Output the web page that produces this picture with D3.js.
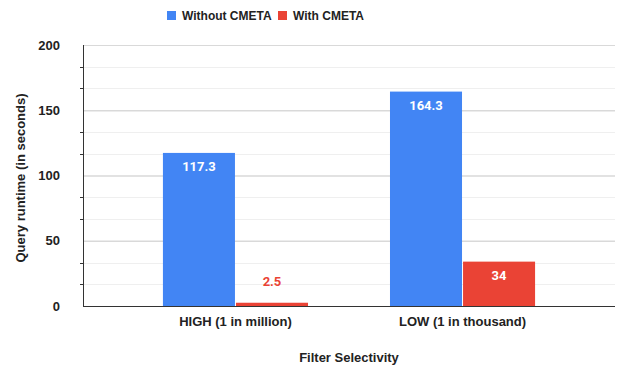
<!DOCTYPE html>
<html><head><meta charset="utf-8">
<script src="https://cdn.jsdelivr.net/npm/d3@7"></script>
<style>body{margin:0;background:#fff}svg{display:block}</style>
</head><body>
<svg id="c" width="618" height="366"></svg>
<script>
const categories = ["HIGH (1 in million)", "LOW (1 in thousand)"];
const seriesNames = ["Without CMETA", "With CMETA"];
const withoutCmeta = [117.3, 164.3];
const withCmeta = [2.5, 34];
const yTicks = [0, 50, 100, 150, 200];
const colors = ["#4285F4", "#EA4335"];

const svg = d3.select("#c");
const W = 618, H = 366;
const m = {l: 83, r: 3, t: 45, b: 60};
const font = "'Liberation Sans', Arial, sans-serif";

const x0 = d3.scaleBand().domain(categories).range([m.l, W - m.r]).paddingInner(0.361).paddingOuter(0.352);
const x1 = d3.scaleBand().domain(seriesNames).range([0, x0.bandwidth()]).paddingInner(0.014);
const y = d3.scaleLinear().domain([0, 200]).range([H - m.b, m.t]);

// minor gridlines
const minor = d3.range(0, 200, 50/3).filter((v,i)=> i%3!==0);
svg.append("g").selectAll("line").data(minor).join("line")
  .attr("x1", m.l).attr("x2", W - m.r)
  .attr("y1", d => Math.round(y(d)) + 0.5).attr("y2", d => Math.round(y(d)) + 0.5)
  .attr("stroke", "#efefef").attr("stroke-width", 1);
// minor tick marks
svg.append("g").selectAll("line").data(minor).join("line")
  .attr("x1", m.l - 3).attr("x2", m.l)
  .attr("y1", d => Math.round(y(d)) + 0.5).attr("y2", d => Math.round(y(d)) + 0.5)
  .attr("stroke", "#333").attr("stroke-width", 1);

// major y axis via d3 axis
const yAxis = svg.append("g").attr("transform", `translate(${m.l},0)`)
  .call(d3.axisLeft(y).tickValues(yTicks).tickSize(-(W - m.r - m.l)).tickPadding(23));
yAxis.select(".domain").remove();
yAxis.selectAll(".tick line").attr("stroke", d => d === 0 ? "none" : "#d9d9d9").attr("stroke-width", d => d===200?1:1.5);
yAxis.selectAll(".tick text").attr("font-family", font).attr("font-size", 13).attr("font-weight", "bold").attr("fill", "#222");

// y axis line
svg.append("line").attr("x1", m.l + 0.5).attr("x2", m.l + 0.5).attr("y1", y(200)).attr("y2", y(0))
  .attr("stroke", "#333").attr("stroke-width", 1);

// bars
const rows = categories.map((c, i) => ({cat: c, vals: [withoutCmeta[i], withCmeta[i]]}));
const g = svg.append("g").selectAll("g").data(rows).join("g")
  .attr("transform", d => `translate(${x0(d.cat)},0)`);
g.selectAll("rect").data(d => d.vals.map((v, j) => ({v, s: seriesNames[j], j}))).join("rect")
  .attr("x", d => x1(d.s)).attr("width", x1.bandwidth())
  .attr("y", d => y(d.v)).attr("height", d => y(0) - y(d.v))
  .attr("fill", d => colors[d.j]);
g.selectAll("text").data(d => d.vals.map((v, j) => ({v, s: seriesNames[j], j}))).join("text")
  .attr("x", d => x1(d.s) + x1.bandwidth()/2)
  .attr("y", d => (y(0) - y(d.v)) > 25 ? y(d.v) + 18 : y(d.v) - 17)
  .attr("text-anchor", "middle")
  .attr("font-family", "Roboto, sans-serif").attr("font-weight", "bold").attr("font-size", 13)
  .attr("fill", d => (y(0) - y(d.v)) > 25 ? "#fff" : colors[d.j])
  .text(d => d.v);

// x axis baseline
svg.append("line").attr("x1", m.l).attr("x2", W - m.r).attr("y1", y(0) + 0.5).attr("y2", y(0) + 0.5)
  .attr("stroke", "#333").attr("stroke-width", 1);

// x axis labels
const xAxis = svg.append("g").attr("transform", `translate(0,${y(0)})`)
  .call(d3.axisBottom(x0).tickSize(0).tickPadding(11));
xAxis.select(".domain").remove();
xAxis.selectAll(".tick text").attr("font-family", font).attr("font-size", 13).attr("font-weight", "bold").attr("fill", "#222");

// axis titles
svg.append("text").attr("x", (m.l + W - m.r)/2 + 0).attr("y", 362)
  .attr("text-anchor", "middle").attr("font-family", font).attr("font-size", 13).attr("font-weight", "bold").attr("fill", "#222")
  .text("Filter Selectivity");
svg.append("text").attr("transform", `translate(25,178) rotate(-90)`)
  .attr("text-anchor", "middle").attr("font-family", font).attr("font-size", 13).attr("font-weight", "bold").attr("fill", "#222")
  .text("Query runtime (in seconds)");

// legend
const leg = svg.append("g");
const items = [{x: 167, n: seriesNames[0], c: colors[0]}, {x: 278, n: seriesNames[1], c: colors[1]}];
items.forEach(it => {
  leg.append("rect").attr("x", it.x).attr("y", 11).attr("width", 9).attr("height", 9).attr("fill", it.c);
  leg.append("text").attr("x", it.x + 15).attr("y", 20).attr("font-family", font).attr("font-size", 12).attr("font-weight", "bold").attr("fill", "#222").text(it.n);
});
</script>
</body></html>
